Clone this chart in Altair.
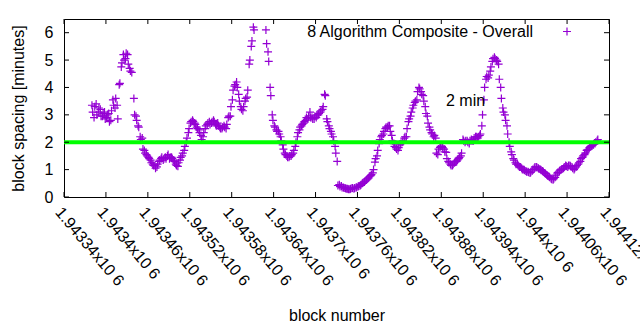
import altair as alt
import pandas as pd

# ---- data ----
# two interleaved passes over the same block range (every 3rd block each)
start_block = 1943380
block_step = 3
spacing = [
    3.35, 2.9, 3.4, 3.1, 3.2, 2.95, 3.1, 2.9, 3.05, 2.8,
    3.55, 3.25, 3.35, 4.1, 4.75, 5.2, 5.05, 5.2, 4.7, 4.55,
    3.6, 2.95, 2.6, 2.2, 2.15, 1.7, 1.55, 1.45, 1.35, 1.2,
    1.15, 1.1, 1.3, 1.4, 1.35, 1.45, 1.5, 1.4, 1.45, 1.35,
    1.2, 1.12, 1.35, 1.5, 1.7, 2.0, 2.35, 2.7, 2.8, 2.7,
    2.55, 2.45, 2.25, 2.2, 2.5, 2.65, 2.75, 2.7, 2.8, 2.65,
    2.7, 2.55, 2.5, 2.6, 2.5, 2.9, 2.95, 3.55, 4.05, 4.2,
    3.75, 3.3, 3.15, 3.5, 3.65, 4.85, 5.5, 6.2, None, None,
    None, None, None, 6.1, 5.3, 4.0, 3.0, 2.6, 2.45, 2.4,
    2.2, 1.9, 1.6, 1.5, 1.45, 1.5, 1.6, 1.85, 2.2, 2.45,
    2.6, 2.7, 2.8, 2.85, 3.1, 2.9, 2.85, 2.9, 3.0, 3.1,
    3.2, 3.75, 2.85, 2.6, 2.4, 2.2, 1.85, 1.3, 0.45, 0.4,
    0.35, 0.32, 0.3, 0.28, 0.32, 0.3, 0.35, 0.38, 0.42, 0.5,
    0.55, 0.62, 0.7, 0.78, 0.88, 1.27, 1.5, 1.95, 2.2, 2.3,
    2.5, 2.55, 2.6, 2.25, 1.95, 1.8, 1.7, 1.9, 2.0, 2.15,
    2.2, 2.75, 2.95, 3.25, 3.45, 3.55, 4.0, 3.85, 3.7, 3.3,
    2.95, 2.55, 2.35, 2.2, 2.15, 1.55, 1.8, 1.85, 1.75, 1.63,
    1.3, 1.2, 1.15, 1.25, 1.3, 1.4, 1.5, 2.1, 2.0, 2.05,
    1.95, 2.1, 2.05, 2.2, 2.15, 2.25, 2.6, 3.55, 4.3, 4.35,
    4.6, 4.95, 5.1, 5.0, 4.85, 4.0, 3.25, 3.0, 2.6, 2.0,
    1.65, 1.4, 1.25, 1.2, 1.1, 1.05, 1.0, 0.95, 0.92, 0.88,
    0.95, 1.05, 1.1, 1.05, 1.0, 0.95, 0.88, 0.8, 0.75, 0.68,
    0.63, 0.72, 0.87, 0.95, 1.0, 1.05, 1.15, 1.1, 1.15, 1.1,
    1.0, 1.1, 1.2, 1.3, 1.45, 1.55, 1.7, 1.75, 1.85, 1.9,
    1.95, 2.05,
]
start_block_b = 1943381
spacing_b = [
    3.1, 3.3, 3.0, 3.25, 2.95, 3.05, 2.85, 3.0, 2.75, 3.15,
    3.35, 3.6, 2.85, 4.15, 4.9, 5.0, 5.25, 4.85, 4.6, None,
    3.0, 2.8, 2.55, 2.1, 1.75, 1.6, 1.5, 1.4, 1.25, 1.15,
    1.05, 1.2, 1.35, 1.45, 1.4, 1.4, 1.55, 1.45, 1.4, 1.3,
    1.15, 1.25, 1.45, 1.6, 1.85, 2.15, 2.5, 2.75, 2.75, 2.65,
    2.5, 2.35, 2.1, 2.35, 2.6, 2.7, 2.65, 2.75, 2.75, 2.6,
    2.6, 2.5, 2.55, 2.55, 2.65, 2.95, 3.3, 3.9, 4.1, 4.0,
    3.5, 3.2, 3.3, 3.6, 3.9, 5.0, 5.7, 6.1, None, None,
    None, None, None, 5.6, 4.95, 3.7, 2.8, 2.55, 2.4, 2.3,
    2.05, 1.75, 1.55, 1.45, 1.5, 1.55, 1.7, 2.0, 2.35, 2.55,
    2.65, 2.75, 2.9, 2.95, 2.9, 2.85, 2.95, 3.0, 3.05, 3.15,
    3.3, 3.7, 2.75, 2.5, 2.3, 2.05, 1.6, 0.42, 0.38, 0.35,
    0.33, 0.3, 0.28, 0.3, 0.33, 0.33, 0.36, 0.4, 0.45, 0.52,
    0.58, 0.66, 0.74, 0.82, 1.0, 1.4, 1.7, 2.1, 2.25, 2.4,
    2.55, 2.6, 2.4, 2.05, 1.85, 1.75, 1.8, 1.95, 2.05, 2.2,
    2.5, 2.85, 3.1, 3.35, 3.5, 3.85, 3.95, 3.75, 3.5, 3.05,
    2.7, 2.45, 2.3, 2.25, 1.6, 1.75, 1.85, 1.8, 1.65, 1.4,
    1.25, 1.15, 1.2, 1.3, 1.35, 1.45, 1.6, 2.05, 2.05, 2.0,
    2.05, 2.05, 2.15, 2.2, 2.2, 2.3, 3.0, 4.0, 4.4, 4.45,
    4.75, 5.05, 5.05, 4.95, 4.3, 3.6, 3.1, 2.8, 2.3, 1.85,
    1.55, 1.35, 1.2, 1.15, 1.1, 1.0, 0.98, 0.92, 0.9, 0.9,
    1.0, 1.1, 1.08, 1.02, 0.98, 0.92, 0.85, 0.78, 0.72, 0.65,
    0.67, 0.8, 0.9, 0.98, 1.02, 1.1, 1.12, 1.15, 1.12, 1.05,
    1.05, 1.15, 1.25, 1.4, 1.5, 1.6, 1.72, 1.8, 1.88, 1.92,
    2.0, 2.1,
]
blocks = [start_block + block_step * i for i in range(len(spacing))]
blocks_b = [start_block_b + block_step * i for i in range(len(spacing_b))]

x_ticks = [1943340, 1943400, 1943460, 1943520, 1943580, 1943640, 1943700,
           1943760, 1943820, 1943880, 1943940, 1944000, 1944060, 1944120]
y_ticks = [0, 1, 2, 3, 4, 5, 6]
target_minutes = [2]
series_name = ["8 Algorithm Composite - Overall"]
target_label = ["2 min"]

# ---- styling ----
W, H = 545, 178
PAD_L, PAD_T = 64, 19
FONT = "Liberation Sans"
PURPLE = "#9400d3"
PLUS = "M-1,0L1,0M0,-1L0,1"
TICK = 5
MW = 1.2

df = pd.concat([
    pd.DataFrame({"block": blocks, "spacing": spacing}),
    pd.DataFrame({"block": blocks_b, "spacing": spacing_b}),
]).dropna()

xscale = alt.Scale(domain=[1943340, 1944120], nice=False, zero=False)
yscale = alt.Scale(domain=[0, 6.5], nice=False, zero=True)

xaxis = alt.Axis(values=x_ticks,
                 labelExpr="format(datum.value/1000000, '.6~g') + 'x10 6'",
                 labelAngle=50, labelAlign="left", labelBaseline="top",
                 labelPadding=7, ticks=False, domain=False, grid=False,
                 labelFont=FONT, labelFontSize=16, labelColor="black",
                 titleFont=FONT, titleFontSize=16, titleFontWeight="normal",
                 titleColor="black", titleX=W / 2, titleY=118,
                 titleAlign="center", titleBaseline="middle",
                 labelOverlap=False, labelFlush=False)
yaxis = alt.Axis(values=y_ticks, ticks=False, domain=False, grid=False,
                 labelPadding=11, labelFont=FONT, labelFontSize=16,
                 labelColor="black", titleFont=FONT, titleFontSize=16,
                 titleFontWeight="normal", titleColor="black",
                 titleX=-46, titleY=H / 2, titleAngle=270,
                 titleAlign="center", titleBaseline="middle",
                 labelOverlap=False, labelFlush=False)
XT = "block number"
YT = "block spacing [minutes]"

points = alt.Chart(df).mark_point(
    shape=PLUS, size=64, filled=False, strokeWidth=MW, color=PURPLE, opacity=1
).encode(
    x=alt.X("block:Q", scale=xscale, title=XT, axis=xaxis),
    y=alt.Y("spacing:Q", scale=yscale, title=YT, axis=yaxis),
)

target = alt.Chart(pd.DataFrame({"t": target_minutes})).mark_rule(
    color="#00ff00", strokeWidth=4
).encode(y=alt.Y("t:Q", scale=yscale, title=YT, axis=yaxis))

xt = pd.DataFrame({"x": x_ticks})
yt = pd.DataFrame({"y": y_ticks})
bottom_ticks = alt.Chart(xt).mark_rule(color="black", strokeWidth=1).encode(
    x=alt.X("x:Q", scale=xscale, title=XT, axis=xaxis),
    y=alt.value(H), y2=alt.value(H - TICK))
top_ticks = alt.Chart(xt).mark_rule(color="black", strokeWidth=1).encode(
    x=alt.X("x:Q", scale=xscale, title=XT, axis=xaxis),
    y=alt.value(0), y2=alt.value(TICK))
left_ticks = alt.Chart(yt).mark_rule(color="black", strokeWidth=1).encode(
    y=alt.Y("y:Q", scale=yscale, title=YT, axis=yaxis),
    x=alt.value(0), x2=alt.value(TICK))
right_ticks = alt.Chart(yt).mark_rule(color="black", strokeWidth=1).encode(
    y=alt.Y("y:Q", scale=yscale, title=YT, axis=yaxis),
    x=alt.value(W - TICK), x2=alt.value(W))

key_text = alt.Chart(pd.DataFrame({"name": series_name})).mark_text(
    align="right", baseline="middle", font=FONT, fontSize=16, color="black"
).encode(text="name:N", x=alt.value(469), y=alt.value(12.5))
key_point = alt.Chart(pd.DataFrame({"name": series_name})).mark_point(
    shape=PLUS, size=64, filled=False, strokeWidth=MW, color=PURPLE, opacity=1
).encode(x=alt.value(503), y=alt.value(12.5))

min_text = alt.Chart(pd.DataFrame({"name": target_label})).mark_text(
    align="left", baseline="middle", font=FONT, fontSize=16, color="black"
).encode(text="name:N", x=alt.value(382), y=alt.value(81.5))

chart = alt.layer(
    points, target, bottom_ticks, top_ticks, left_ticks, right_ticks,
    key_text, key_point, min_text
).properties(
    width=W, height=H,
    autosize=alt.AutoSizeParams(type="none"),
    padding={"left": PAD_L, "top": PAD_T,
             "right": 640 - PAD_L - W, "bottom": 330 - PAD_T - H},
    background="white",
).configure_view(stroke="black", strokeWidth=1)

chart.save("out.html", embed_options={"renderer": "svg", "actions": False})
